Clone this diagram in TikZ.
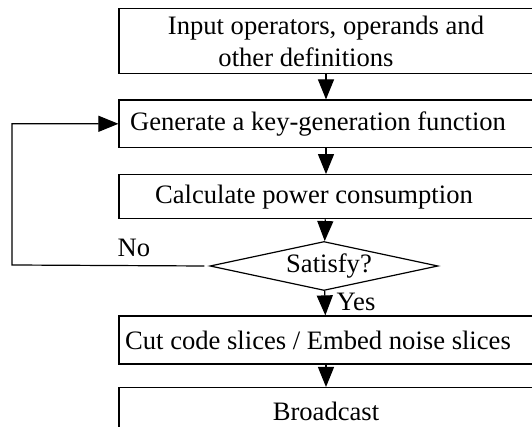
\documentclass[tikz,border=0pt]{standalone}
\usepackage{fontspec}
\setmainfont{Liberation Serif}
\usetikzlibrary{shapes.geometric,arrows.meta}

\begin{document}
\begin{tikzpicture}[x=0.5pt,y=-0.5pt,
  stepbox/.style={draw,line width=0.6pt,minimum width=207pt,inner sep=0pt,align=center},
  test/.style={draw,line width=0.6pt,shape=diamond,aspect=4.65,minimum width=114pt,minimum height=24.5pt,inner sep=0pt},
  arr/.style={line width=0.6pt,-{Triangle[length=10pt,width=8pt]}},
  lbl/.style={inner sep=0pt}]
\fontsize{13.3}{16}\selectfont
\useasboundingbox (0,0) rectangle (532,427);
\clip (0,0) rectangle (532,427);

% Boxes
\node[stepbox,minimum height=32.25pt] (in) at (326,41) {Input operators, operands and\\other definitions\hspace*{20pt}};
\node[stepbox,minimum height=23.8pt] (gen) at (326,123.8) {Generate a key-generation function\hspace*{8pt}};
\node[stepbox,minimum height=22pt] (calc) at (326,196.7) {Calculate power consumption\hspace*{12pt}};
\node[test] (sat) at (324,266) {\hspace*{5pt}Satisfy?};
\node[stepbox,minimum height=24pt] (cut) at (326,340) {Cut code slices / Embed noise slices\hspace*{8pt}};
\node[stepbox,minimum height=24pt] (bc) at (326,411.6) {Broadcast};

% Labels
\node[lbl] (no) at (134,248) {No};
\node[lbl] (yes) at (356,302) {Yes};

% Arrows
\draw[arr] (in) -- (gen);
\draw[arr] (gen) -- (calc);
\draw[arr] (calc) -- (sat);
\draw[arr] (sat) -- (cut);
\draw[arr] (cut) -- (bc);

% Loop back
\coordinate (back) at (12,265);
\draw[arr] ([xshift=-2.5pt]sat.west) -- (back) |- (gen.west);
\end{tikzpicture}
\end{document}
